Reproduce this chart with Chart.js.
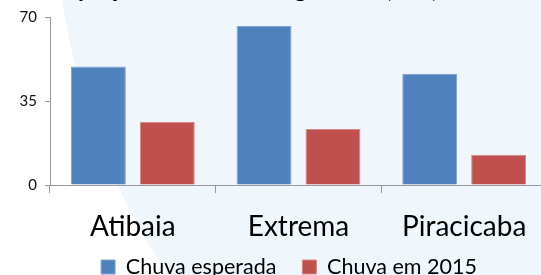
<!DOCTYPE html>
<html>
<head>
<meta charset="utf-8">
<script src="https://cdn.jsdelivr.net/npm/chart.js@4.4.1/dist/chart.umd.min.js"></script>
<style>
  html, body { margin: 0; padding: 0; overflow: hidden; background: #fff; }
  #box { position: absolute; left: 0; top: 0; width: 550px; height: 302px; }
</style>
</head>
<body>
<div id="box"><canvas id="grafico"></canvas></div>
<script>
// dados
const cidades = ["Atibaia", "Extrema", "Piracicaba"];
const chuvaEsperada = [49.4, 66.2, 46.4];
const chuva2015 = [26.4, 23.3, 12.6];
const ticksY = [0, 35, 70];
const tituloTexto = "Chuva projetada x chuva registrada (mm)";

// fundo azul claro com a curva na esquerda
const fundo = {
  id: "fundo",
  afterLayout(chart) {
    // posiciona a legenda na mao (centro dos itens em y=267)
    const lg = chart.legend;
    if (lg) {
      lg.left = 31;
      lg.top = 267 - 10.75 - lg.options.labels.padding;
    }
  },
  beforeDraw(chart) {
    const c = chart.ctx;
    c.save();
    c.fillStyle = "#ffffff";
    c.fillRect(0, 0, chart.width, chart.height);
    c.fillStyle = "#eff7fd";
    c.beginPath();
    c.moveTo(62, 0);
    c.quadraticCurveTo(85, 150, 168, 275);
    c.lineTo(175, chart.height);
    c.lineTo(chart.width, chart.height);
    c.lineTo(chart.width, 0);
    c.closePath();
    c.fill();
    c.restore();
  },
  afterDraw(chart) {
    // titulo cortado no topo
    const c = chart.ctx;
    c.save();
    c.font = "bold 24px Lato";
    c.fillStyle = "#000";
    c.textAlign = "right";
    c.textBaseline = "alphabetic";
    c.fillText(tituloTexto, 438, -3);
    c.restore();
  }
};

const ctx = document.getElementById("grafico").getContext("2d");
const chart = new Chart(ctx, {
  type: "bar",
  data: {
    labels: cidades,
    datasets: [
      {
        label: "Chuva esperada",
        data: chuvaEsperada,
        backgroundColor: "#4f81bd",
        borderColor: "#7ea3d2",
        borderWidth: 1,
      },
      {
        label: "Chuva em 2015",
        data: chuva2015,
        backgroundColor: "#c0504d",
        borderColor: "#d48886",
        borderWidth: 1,
      },
    ],
  },
  options: {
    responsive: true,
    maintainAspectRatio: false,
    animation: false,
    devicePixelRatio: 1,
    categoryPercentage: 0.832,
    barPercentage: 0.797,
    layout: { padding: { top: 15, right: 3, left: 0, bottom: 0 } },
    plugins: {
      tooltip: { enabled: false },
      legend: {
        position: "bottom",
        labels: {
          boxWidth: 14,
          boxHeight: 14,
          padding: 26,
          color: "#000",
          font: { family: "Lato", size: 21.5 },
        },
      },
    },
    scales: {
      x: {
        afterFit: function (s) { s.height = 302 - 185 - (21.5 + 26 + 10); },
        grid: { drawOnChartArea: false, tickLength: 8, color: "#999" },
        border: { color: "#999" },
        ticks: { color: "#000", padding: 17, font: { family: "Lato", size: 28 } },
      },
      y: {
        min: 0,
        max: 70,
        afterFit: function (s) { s.width = 50; },
        afterBuildTicks: function (s) { s.ticks = ticksY.map((v) => ({ value: v })); },
        grid: { drawOnChartArea: false, tickLength: 5, color: "#999" },
        border: { color: "#999" },
        ticks: { color: "#111", padding: 8, font: { family: "Lato", size: 15 } },
      },
    },
  },
  plugins: [fundo],
});
</script>
</body>
</html>
